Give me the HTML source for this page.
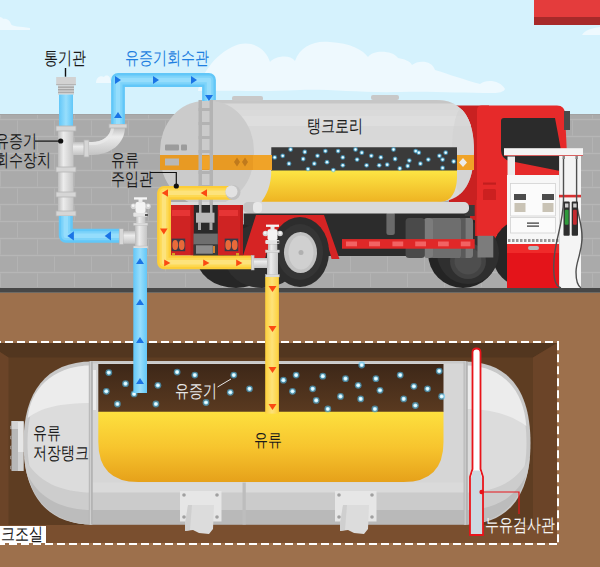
<!DOCTYPE html>
<html><head><meta charset="utf-8">
<style>
html,body{margin:0;padding:0;background:#d5f2fd;}
body{width:600px;height:567px;overflow:hidden;position:relative;font-family:"Liberation Sans",sans-serif;}
svg{position:absolute;left:0;top:0;display:block;}
.t{font-family:"Liberation Sans",sans-serif;font-size:18px;fill:#1a1a1a;}
</style></head><body>
<svg width="600" height="567" viewBox="0 0 600 567">
<defs>
<linearGradient id="yel" x1="0" y1="0" x2="0" y2="1">
<stop offset="0" stop-color="#fde03f"/><stop offset="0.5" stop-color="#f7c52e"/><stop offset="1" stop-color="#e6a11a"/>
</linearGradient>
<linearGradient id="yel2" x1="0" y1="0" x2="0" y2="1">
<stop offset="0" stop-color="#fde544"/><stop offset="1" stop-color="#eeb423"/>
</linearGradient>
<linearGradient id="vap" x1="0" y1="0" x2="0" y2="1">
<stop offset="0" stop-color="#3d2718"/><stop offset="1" stop-color="#5a3a20"/>
</linearGradient>
<linearGradient id="bpH" x1="0" y1="0" x2="0" y2="1">
<stop offset="0" stop-color="#62c7f8"/><stop offset="0.5" stop-color="#98defc"/><stop offset="1" stop-color="#62c7f8"/>
</linearGradient>
<linearGradient id="bpV" x1="0" y1="0" x2="1" y2="0">
<stop offset="0" stop-color="#62c7f8"/><stop offset="0.5" stop-color="#98defc"/><stop offset="1" stop-color="#62c7f8"/>
</linearGradient>
<linearGradient id="ypH" x1="0" y1="0" x2="0" y2="1">
<stop offset="0" stop-color="#fdd03a"/><stop offset="0.5" stop-color="#fde27a"/><stop offset="1" stop-color="#fdd03a"/>
</linearGradient>
<linearGradient id="ypV" x1="0" y1="0" x2="1" y2="0">
<stop offset="0" stop-color="#fdd03a"/><stop offset="0.5" stop-color="#fde27a"/><stop offset="1" stop-color="#fdd03a"/>
</linearGradient>
<linearGradient id="gpV" x1="0" y1="0" x2="1" y2="0">
<stop offset="0" stop-color="#bdbdbd"/><stop offset="0.35" stop-color="#ececec"/><stop offset="1" stop-color="#c4c4c4"/>
</linearGradient>
<linearGradient id="gpH" x1="0" y1="0" x2="0" y2="1">
<stop offset="0" stop-color="#bdbdbd"/><stop offset="0.35" stop-color="#ececec"/><stop offset="1" stop-color="#c4c4c4"/>
</linearGradient>
</defs>

<!-- sky -->
<rect x="0" y="0" width="600" height="300" fill="#d5f2fd"/>
<!-- clouds -->
<path d="M-10 30 L0 30 C2 22 6 18 0 17 C-6 17 -10 22 -10 30Z" fill="#eef9fe"/>
<path d="M-10 30 C-8 20 8 14 11 24 C12 27 20 26 30 28 L30 30 Z" fill="#eef9fe"/>
<path d="M96 83 C96 78 100 75 104 77 C106 74 111 76 110 80 L113 83 Z" fill="#eef9fe"/>
<path d="M198 91 C200 80 210 58 232 47 C250 38 266 48 270 62 C275 56 290 54 295 61 C300 46 315 40 330 42 C350 43 363 50 368 57 C373 50 392 50 398 58 C404 59 410 61 412 65 C418 60 432 60 435 70 C448 74 465 80 480 84 C486 79 500 80 505 89 C504 92 498 93 494 93 C460 93 430 91 400 92 C360 93 330 89 300 90 C260 92 230 90 198 91 Z" fill="#eef9fe"/>
<path d="M582 35 C585 30 592 28 600 27 L600 35 Z" fill="#eef9fe"/>
<!-- red sign -->
<rect x="534" y="0" width="66" height="17" fill="#e43c3c"/>
<rect x="534" y="17" width="66" height="8" fill="#a72a2a"/>

<!-- brick wall -->
<rect x="0" y="114" width="600" height="176" fill="#aaaaaa"/><rect x="0" y="114" width="600" height="1" fill="#a2a2a2"/>
<rect x="0" y="118.8" width="600" height="1.4" fill="#b6b6b6"/><rect x="0" y="135.8" width="600" height="1.4" fill="#b6b6b6"/><rect x="0" y="152.8" width="600" height="1.4" fill="#b6b6b6"/><rect x="0" y="169.8" width="600" height="1.4" fill="#b6b6b6"/><rect x="0" y="186.8" width="600" height="1.4" fill="#b6b6b6"/><rect x="0" y="203.8" width="600" height="1.4" fill="#b6b6b6"/><rect x="0" y="220.8" width="600" height="1.4" fill="#b6b6b6"/><rect x="0" y="237.8" width="600" height="1.4" fill="#b6b6b6"/><rect x="0" y="254.8" width="600" height="1.4" fill="#b6b6b6"/><rect x="0" y="271.8" width="600" height="1.4" fill="#b6b6b6"/><rect x="-37" y="115" width="1" height="3.5" fill="#b3b3b3"/><rect x="0" y="115" width="1" height="3.5" fill="#b3b3b3"/><rect x="37" y="115" width="1" height="3.5" fill="#b3b3b3"/><rect x="74" y="115" width="1" height="3.5" fill="#b3b3b3"/><rect x="111" y="115" width="1" height="3.5" fill="#b3b3b3"/><rect x="148" y="115" width="1" height="3.5" fill="#b3b3b3"/><rect x="185" y="115" width="1" height="3.5" fill="#b3b3b3"/><rect x="222" y="115" width="1" height="3.5" fill="#b3b3b3"/><rect x="259" y="115" width="1" height="3.5" fill="#b3b3b3"/><rect x="296" y="115" width="1" height="3.5" fill="#b3b3b3"/><rect x="333" y="115" width="1" height="3.5" fill="#b3b3b3"/><rect x="370" y="115" width="1" height="3.5" fill="#b3b3b3"/><rect x="407" y="115" width="1" height="3.5" fill="#b3b3b3"/><rect x="444" y="115" width="1" height="3.5" fill="#b3b3b3"/><rect x="481" y="115" width="1" height="3.5" fill="#b3b3b3"/><rect x="518" y="115" width="1" height="3.5" fill="#b3b3b3"/><rect x="555" y="115" width="1" height="3.5" fill="#b3b3b3"/><rect x="592" y="115" width="1" height="3.5" fill="#b3b3b3"/><rect x="-20" y="120.5" width="1" height="15.0" fill="#b3b3b3"/><rect x="17" y="120.5" width="1" height="15.0" fill="#b3b3b3"/><rect x="54" y="120.5" width="1" height="15.0" fill="#b3b3b3"/><rect x="91" y="120.5" width="1" height="15.0" fill="#b3b3b3"/><rect x="128" y="120.5" width="1" height="15.0" fill="#b3b3b3"/><rect x="165" y="120.5" width="1" height="15.0" fill="#b3b3b3"/><rect x="202" y="120.5" width="1" height="15.0" fill="#b3b3b3"/><rect x="239" y="120.5" width="1" height="15.0" fill="#b3b3b3"/><rect x="276" y="120.5" width="1" height="15.0" fill="#b3b3b3"/><rect x="313" y="120.5" width="1" height="15.0" fill="#b3b3b3"/><rect x="350" y="120.5" width="1" height="15.0" fill="#b3b3b3"/><rect x="387" y="120.5" width="1" height="15.0" fill="#b3b3b3"/><rect x="424" y="120.5" width="1" height="15.0" fill="#b3b3b3"/><rect x="461" y="120.5" width="1" height="15.0" fill="#b3b3b3"/><rect x="498" y="120.5" width="1" height="15.0" fill="#b3b3b3"/><rect x="535" y="120.5" width="1" height="15.0" fill="#b3b3b3"/><rect x="572" y="120.5" width="1" height="15.0" fill="#b3b3b3"/><rect x="609" y="120.5" width="1" height="15.0" fill="#b3b3b3"/><rect x="-37" y="137.5" width="1" height="15.0" fill="#b3b3b3"/><rect x="0" y="137.5" width="1" height="15.0" fill="#b3b3b3"/><rect x="37" y="137.5" width="1" height="15.0" fill="#b3b3b3"/><rect x="74" y="137.5" width="1" height="15.0" fill="#b3b3b3"/><rect x="111" y="137.5" width="1" height="15.0" fill="#b3b3b3"/><rect x="148" y="137.5" width="1" height="15.0" fill="#b3b3b3"/><rect x="185" y="137.5" width="1" height="15.0" fill="#b3b3b3"/><rect x="222" y="137.5" width="1" height="15.0" fill="#b3b3b3"/><rect x="259" y="137.5" width="1" height="15.0" fill="#b3b3b3"/><rect x="296" y="137.5" width="1" height="15.0" fill="#b3b3b3"/><rect x="333" y="137.5" width="1" height="15.0" fill="#b3b3b3"/><rect x="370" y="137.5" width="1" height="15.0" fill="#b3b3b3"/><rect x="407" y="137.5" width="1" height="15.0" fill="#b3b3b3"/><rect x="444" y="137.5" width="1" height="15.0" fill="#b3b3b3"/><rect x="481" y="137.5" width="1" height="15.0" fill="#b3b3b3"/><rect x="518" y="137.5" width="1" height="15.0" fill="#b3b3b3"/><rect x="555" y="137.5" width="1" height="15.0" fill="#b3b3b3"/><rect x="592" y="137.5" width="1" height="15.0" fill="#b3b3b3"/><rect x="-20" y="154.5" width="1" height="15.0" fill="#b3b3b3"/><rect x="17" y="154.5" width="1" height="15.0" fill="#b3b3b3"/><rect x="54" y="154.5" width="1" height="15.0" fill="#b3b3b3"/><rect x="91" y="154.5" width="1" height="15.0" fill="#b3b3b3"/><rect x="128" y="154.5" width="1" height="15.0" fill="#b3b3b3"/><rect x="165" y="154.5" width="1" height="15.0" fill="#b3b3b3"/><rect x="202" y="154.5" width="1" height="15.0" fill="#b3b3b3"/><rect x="239" y="154.5" width="1" height="15.0" fill="#b3b3b3"/><rect x="276" y="154.5" width="1" height="15.0" fill="#b3b3b3"/><rect x="313" y="154.5" width="1" height="15.0" fill="#b3b3b3"/><rect x="350" y="154.5" width="1" height="15.0" fill="#b3b3b3"/><rect x="387" y="154.5" width="1" height="15.0" fill="#b3b3b3"/><rect x="424" y="154.5" width="1" height="15.0" fill="#b3b3b3"/><rect x="461" y="154.5" width="1" height="15.0" fill="#b3b3b3"/><rect x="498" y="154.5" width="1" height="15.0" fill="#b3b3b3"/><rect x="535" y="154.5" width="1" height="15.0" fill="#b3b3b3"/><rect x="572" y="154.5" width="1" height="15.0" fill="#b3b3b3"/><rect x="609" y="154.5" width="1" height="15.0" fill="#b3b3b3"/><rect x="-37" y="171.5" width="1" height="15.0" fill="#b3b3b3"/><rect x="0" y="171.5" width="1" height="15.0" fill="#b3b3b3"/><rect x="37" y="171.5" width="1" height="15.0" fill="#b3b3b3"/><rect x="74" y="171.5" width="1" height="15.0" fill="#b3b3b3"/><rect x="111" y="171.5" width="1" height="15.0" fill="#b3b3b3"/><rect x="148" y="171.5" width="1" height="15.0" fill="#b3b3b3"/><rect x="185" y="171.5" width="1" height="15.0" fill="#b3b3b3"/><rect x="222" y="171.5" width="1" height="15.0" fill="#b3b3b3"/><rect x="259" y="171.5" width="1" height="15.0" fill="#b3b3b3"/><rect x="296" y="171.5" width="1" height="15.0" fill="#b3b3b3"/><rect x="333" y="171.5" width="1" height="15.0" fill="#b3b3b3"/><rect x="370" y="171.5" width="1" height="15.0" fill="#b3b3b3"/><rect x="407" y="171.5" width="1" height="15.0" fill="#b3b3b3"/><rect x="444" y="171.5" width="1" height="15.0" fill="#b3b3b3"/><rect x="481" y="171.5" width="1" height="15.0" fill="#b3b3b3"/><rect x="518" y="171.5" width="1" height="15.0" fill="#b3b3b3"/><rect x="555" y="171.5" width="1" height="15.0" fill="#b3b3b3"/><rect x="592" y="171.5" width="1" height="15.0" fill="#b3b3b3"/><rect x="-20" y="188.5" width="1" height="15.0" fill="#b3b3b3"/><rect x="17" y="188.5" width="1" height="15.0" fill="#b3b3b3"/><rect x="54" y="188.5" width="1" height="15.0" fill="#b3b3b3"/><rect x="91" y="188.5" width="1" height="15.0" fill="#b3b3b3"/><rect x="128" y="188.5" width="1" height="15.0" fill="#b3b3b3"/><rect x="165" y="188.5" width="1" height="15.0" fill="#b3b3b3"/><rect x="202" y="188.5" width="1" height="15.0" fill="#b3b3b3"/><rect x="239" y="188.5" width="1" height="15.0" fill="#b3b3b3"/><rect x="276" y="188.5" width="1" height="15.0" fill="#b3b3b3"/><rect x="313" y="188.5" width="1" height="15.0" fill="#b3b3b3"/><rect x="350" y="188.5" width="1" height="15.0" fill="#b3b3b3"/><rect x="387" y="188.5" width="1" height="15.0" fill="#b3b3b3"/><rect x="424" y="188.5" width="1" height="15.0" fill="#b3b3b3"/><rect x="461" y="188.5" width="1" height="15.0" fill="#b3b3b3"/><rect x="498" y="188.5" width="1" height="15.0" fill="#b3b3b3"/><rect x="535" y="188.5" width="1" height="15.0" fill="#b3b3b3"/><rect x="572" y="188.5" width="1" height="15.0" fill="#b3b3b3"/><rect x="609" y="188.5" width="1" height="15.0" fill="#b3b3b3"/><rect x="-37" y="205.5" width="1" height="15.0" fill="#b3b3b3"/><rect x="0" y="205.5" width="1" height="15.0" fill="#b3b3b3"/><rect x="37" y="205.5" width="1" height="15.0" fill="#b3b3b3"/><rect x="74" y="205.5" width="1" height="15.0" fill="#b3b3b3"/><rect x="111" y="205.5" width="1" height="15.0" fill="#b3b3b3"/><rect x="148" y="205.5" width="1" height="15.0" fill="#b3b3b3"/><rect x="185" y="205.5" width="1" height="15.0" fill="#b3b3b3"/><rect x="222" y="205.5" width="1" height="15.0" fill="#b3b3b3"/><rect x="259" y="205.5" width="1" height="15.0" fill="#b3b3b3"/><rect x="296" y="205.5" width="1" height="15.0" fill="#b3b3b3"/><rect x="333" y="205.5" width="1" height="15.0" fill="#b3b3b3"/><rect x="370" y="205.5" width="1" height="15.0" fill="#b3b3b3"/><rect x="407" y="205.5" width="1" height="15.0" fill="#b3b3b3"/><rect x="444" y="205.5" width="1" height="15.0" fill="#b3b3b3"/><rect x="481" y="205.5" width="1" height="15.0" fill="#b3b3b3"/><rect x="518" y="205.5" width="1" height="15.0" fill="#b3b3b3"/><rect x="555" y="205.5" width="1" height="15.0" fill="#b3b3b3"/><rect x="592" y="205.5" width="1" height="15.0" fill="#b3b3b3"/><rect x="-20" y="222.5" width="1" height="15.0" fill="#b3b3b3"/><rect x="17" y="222.5" width="1" height="15.0" fill="#b3b3b3"/><rect x="54" y="222.5" width="1" height="15.0" fill="#b3b3b3"/><rect x="91" y="222.5" width="1" height="15.0" fill="#b3b3b3"/><rect x="128" y="222.5" width="1" height="15.0" fill="#b3b3b3"/><rect x="165" y="222.5" width="1" height="15.0" fill="#b3b3b3"/><rect x="202" y="222.5" width="1" height="15.0" fill="#b3b3b3"/><rect x="239" y="222.5" width="1" height="15.0" fill="#b3b3b3"/><rect x="276" y="222.5" width="1" height="15.0" fill="#b3b3b3"/><rect x="313" y="222.5" width="1" height="15.0" fill="#b3b3b3"/><rect x="350" y="222.5" width="1" height="15.0" fill="#b3b3b3"/><rect x="387" y="222.5" width="1" height="15.0" fill="#b3b3b3"/><rect x="424" y="222.5" width="1" height="15.0" fill="#b3b3b3"/><rect x="461" y="222.5" width="1" height="15.0" fill="#b3b3b3"/><rect x="498" y="222.5" width="1" height="15.0" fill="#b3b3b3"/><rect x="535" y="222.5" width="1" height="15.0" fill="#b3b3b3"/><rect x="572" y="222.5" width="1" height="15.0" fill="#b3b3b3"/><rect x="609" y="222.5" width="1" height="15.0" fill="#b3b3b3"/><rect x="-37" y="239.5" width="1" height="15.0" fill="#b3b3b3"/><rect x="0" y="239.5" width="1" height="15.0" fill="#b3b3b3"/><rect x="37" y="239.5" width="1" height="15.0" fill="#b3b3b3"/><rect x="74" y="239.5" width="1" height="15.0" fill="#b3b3b3"/><rect x="111" y="239.5" width="1" height="15.0" fill="#b3b3b3"/><rect x="148" y="239.5" width="1" height="15.0" fill="#b3b3b3"/><rect x="185" y="239.5" width="1" height="15.0" fill="#b3b3b3"/><rect x="222" y="239.5" width="1" height="15.0" fill="#b3b3b3"/><rect x="259" y="239.5" width="1" height="15.0" fill="#b3b3b3"/><rect x="296" y="239.5" width="1" height="15.0" fill="#b3b3b3"/><rect x="333" y="239.5" width="1" height="15.0" fill="#b3b3b3"/><rect x="370" y="239.5" width="1" height="15.0" fill="#b3b3b3"/><rect x="407" y="239.5" width="1" height="15.0" fill="#b3b3b3"/><rect x="444" y="239.5" width="1" height="15.0" fill="#b3b3b3"/><rect x="481" y="239.5" width="1" height="15.0" fill="#b3b3b3"/><rect x="518" y="239.5" width="1" height="15.0" fill="#b3b3b3"/><rect x="555" y="239.5" width="1" height="15.0" fill="#b3b3b3"/><rect x="592" y="239.5" width="1" height="15.0" fill="#b3b3b3"/><rect x="-20" y="256.5" width="1" height="15.0" fill="#b3b3b3"/><rect x="17" y="256.5" width="1" height="15.0" fill="#b3b3b3"/><rect x="54" y="256.5" width="1" height="15.0" fill="#b3b3b3"/><rect x="91" y="256.5" width="1" height="15.0" fill="#b3b3b3"/><rect x="128" y="256.5" width="1" height="15.0" fill="#b3b3b3"/><rect x="165" y="256.5" width="1" height="15.0" fill="#b3b3b3"/><rect x="202" y="256.5" width="1" height="15.0" fill="#b3b3b3"/><rect x="239" y="256.5" width="1" height="15.0" fill="#b3b3b3"/><rect x="276" y="256.5" width="1" height="15.0" fill="#b3b3b3"/><rect x="313" y="256.5" width="1" height="15.0" fill="#b3b3b3"/><rect x="350" y="256.5" width="1" height="15.0" fill="#b3b3b3"/><rect x="387" y="256.5" width="1" height="15.0" fill="#b3b3b3"/><rect x="424" y="256.5" width="1" height="15.0" fill="#b3b3b3"/><rect x="461" y="256.5" width="1" height="15.0" fill="#b3b3b3"/><rect x="498" y="256.5" width="1" height="15.0" fill="#b3b3b3"/><rect x="535" y="256.5" width="1" height="15.0" fill="#b3b3b3"/><rect x="572" y="256.5" width="1" height="15.0" fill="#b3b3b3"/><rect x="609" y="256.5" width="1" height="15.0" fill="#b3b3b3"/><rect x="-37" y="273.5" width="1" height="13.5" fill="#b3b3b3"/><rect x="0" y="273.5" width="1" height="13.5" fill="#b3b3b3"/><rect x="37" y="273.5" width="1" height="13.5" fill="#b3b3b3"/><rect x="74" y="273.5" width="1" height="13.5" fill="#b3b3b3"/><rect x="111" y="273.5" width="1" height="13.5" fill="#b3b3b3"/><rect x="148" y="273.5" width="1" height="13.5" fill="#b3b3b3"/><rect x="185" y="273.5" width="1" height="13.5" fill="#b3b3b3"/><rect x="222" y="273.5" width="1" height="13.5" fill="#b3b3b3"/><rect x="259" y="273.5" width="1" height="13.5" fill="#b3b3b3"/><rect x="296" y="273.5" width="1" height="13.5" fill="#b3b3b3"/><rect x="333" y="273.5" width="1" height="13.5" fill="#b3b3b3"/><rect x="370" y="273.5" width="1" height="13.5" fill="#b3b3b3"/><rect x="407" y="273.5" width="1" height="13.5" fill="#b3b3b3"/><rect x="444" y="273.5" width="1" height="13.5" fill="#b3b3b3"/><rect x="481" y="273.5" width="1" height="13.5" fill="#b3b3b3"/><rect x="518" y="273.5" width="1" height="13.5" fill="#b3b3b3"/><rect x="555" y="273.5" width="1" height="13.5" fill="#b3b3b3"/><rect x="592" y="273.5" width="1" height="13.5" fill="#b3b3b3"/>

<!-- ground -->
<rect x="0" y="288" width="600" height="4.8" fill="#474747"/>
<rect x="0" y="292.8" width="600" height="275" fill="#9d704c"/>

<!-- ===== Vent + vapor recovery device ===== -->
<!-- vent cap -->
<rect x="64.8" y="68" width="1.4" height="8.7" fill="#111"/>
<rect x="56.2" y="77" width="19.7" height="8" fill="#d2d2d2"/>
<rect x="56.2" y="84" width="19.7" height="1.2" fill="#b4b4b4"/>
<rect x="58" y="85.2" width="16" height="9.4" fill="#d0d0d0"/>
<rect x="58" y="86.6" width="16" height="1.1" fill="#9c9c9c"/>
<rect x="58" y="89.2" width="16" height="1.1" fill="#9c9c9c"/>
<rect x="58" y="91.8" width="16" height="1.1" fill="#a8a8a8"/>
<rect x="59" y="94.6" width="14" height="32.4" fill="url(#bpV)"/>
<!-- grey vertical device pipe -->
<rect x="58" y="127" width="15.5" height="89" fill="url(#gpV)"/>
<rect x="56" y="126" width="20" height="5" fill="#d6d6d6" stroke="#b5b5b5" stroke-width="0.8"/>
<rect x="56" y="167" width="20" height="5" fill="#d6d6d6" stroke="#b5b5b5" stroke-width="0.8"/>
<rect x="56" y="192" width="20" height="5" fill="#d6d6d6" stroke="#b5b5b5" stroke-width="0.8"/>
<rect x="56" y="211" width="20" height="5" fill="#d6d6d6" stroke="#b5b5b5" stroke-width="0.8"/>
<!-- horizontal branch + elbow -->
<rect x="73" y="142" width="12" height="13" fill="url(#gpH)"/>
<rect x="84" y="140" width="5" height="17" fill="#d6d6d6" stroke="#b5b5b5" stroke-width="0.8"/>
<path d="M89 142 L92 142 C102 142 111 136 111 127 L125 127 C125 144 110 155 92 155 L89 155 Z" fill="url(#gpH)"/>
<path d="M111 127 C111 136 102 142 92 142 L89 142 L89 145 L93 145 C104 145 114 138 114 127Z" fill="#e9e9e9" opacity="0.7"/>
<rect x="109" y="124" width="18" height="4" fill="#d6d6d6" stroke="#b5b5b5" stroke-width="0.8"/>
<!-- blue pipe vapor recovery -->
<g fill="none" stroke-linejoin="round">
<path d="M118 124 L118 80 L209 80 L209 101" stroke="#62c7f8" stroke-width="13.8"/>
<path d="M118 124 L118 80 L209 80 L209 101" stroke="#7dd3fa" stroke-width="9"/>
<path d="M118 124 L118 80 L209 80 L209 101" stroke="#95ddfc" stroke-width="4.5"/>
</g>
<!-- arrows on vapor pipe -->
<path d="M115 76 L121 80 L115 84Z" fill="#1a74e6"/>
<path d="M153 76 L159 80 L153 84Z" fill="#1a74e6"/>
<path d="M191 76 L197 80 L191 84Z" fill="#1a74e6"/>
<path d="M205 95 L213 95 L209 101Z" fill="#1a74e6"/>
<path d="M114 118 L122 118 L118 112Z" fill="#1a74e6"/>
<!-- blue lower pipe -->
<g fill="none" stroke-linejoin="round">
<path d="M65.8 216 L65.8 235.8 L120 235.8" stroke="#62c7f8" stroke-width="14"/>
<path d="M65.8 216 L65.8 235.8 L120 235.8" stroke="#7dd3fa" stroke-width="9"/>
<path d="M65.8 216 L65.8 235.8 L120 235.8" stroke="#95ddfc" stroke-width="4.5"/>
</g>
<path d="M73.9 231.3 L73.9 240.5 L67.4 235.9Z" fill="#1a74e6"/>
<path d="M111 231.3 L111 240.5 L104.7 235.9Z" fill="#1a74e6"/>


<!-- ===== TANKER TRUCK ===== -->
<!-- cab back -->
<rect x="449" y="105.5" width="40" height="150" fill="#c92121"/>
<path d="M482 105.5 L557 105.5 Q565 105.5 565 114 L568 175 L568 258 L477 258 L477 110 Q477 105.5 482 105.5 Z" fill="#e62a2a"/>
<path d="M504 118 L556 118 L566 166 L560 171 L510 161 Q501 159 501 150 L501 121 Q501 118 504 118 Z" fill="#2b2b2b"/>
<path d="M555 118 L558 118 L566 160 L563 161Z" fill="#e62a2a"/>
<rect x="564" y="111" width="6" height="19" fill="#4a4a4a"/>
<rect x="483" y="182.5" width="13" height="2.2" fill="#c21e1e"/>
<rect x="483" y="189" width="13" height="17.5" rx="1.5" fill="#cc2020"/>
<!-- chassis dark -->
<rect x="244" y="213" width="226" height="43" fill="#2c2c2c"/>
<!-- rear dual tires -->
<ellipse cx="236" cy="256" rx="40" ry="32" fill="#262626"/>
<ellipse cx="262" cy="256" rx="38" ry="32" fill="#2e2e2e"/>
<!-- fender -->
<path d="M256 215 L324 215 L339.5 259 L331.5 259 C327 235 314 222 300 222 C284 222 271 234 265 259 L242 259 Z" fill="#d62424"/>
<!-- middle wheel -->
<ellipse cx="300" cy="252" rx="29" ry="35" fill="#2d2d2d"/>
<ellipse cx="300" cy="252" rx="23" ry="28" fill="#353535"/>
<ellipse cx="300.5" cy="252.5" rx="16.5" ry="20.5" fill="#c2c2c2"/>
<ellipse cx="301" cy="252.5" rx="12.5" ry="17" fill="#d0d0d0"/>
<circle cx="301" cy="252.5" r="2.5" fill="#b0b0b0"/>
<!-- front wheel under cab -->
<circle cx="527" cy="253" r="35" fill="#262626"/>
<circle cx="463" cy="253" r="35" fill="#242424"/>
<circle cx="468" cy="253" r="31" fill="#2f2f2f"/>
<circle cx="468" cy="261" r="18" fill="#434343"/>
<circle cx="468" cy="261" r="13.5" fill="#4e4e4e"/>
<!-- fuel tank box -->
<rect x="386.4" y="212" width="8.4" height="23" rx="2.5" fill="#6a6a6a"/>
<rect x="455" y="218" width="18" height="40" rx="3" fill="#7a7a7a"/>
<rect x="459.6" y="218" width="6" height="40" fill="#5a5a5a"/>
<rect x="430" y="218" width="31" height="40" rx="3" fill="#6e6e6e"/>
<rect x="424" y="218" width="9" height="40" rx="3" fill="#7c7c7c"/>
<rect x="405.6" y="218" width="19.2" height="40" rx="3.5" fill="#4a4a4a"/>
<!-- cab lower red over tires -->
<path d="M475 200 L508 200 L508 222 C501 225 497 230 497 236 L475 236 Z" fill="#e62a2a"/><rect x="475" y="200" width="1.5" height="36" fill="#c92121"/>
<rect x="477.5" y="235.8" width="15.8" height="21.7" fill="#7c7c7c"/>
<!-- red side bar -->
<rect x="342" y="239.1" width="132.7" height="9.6" fill="#e02828"/>
<rect x="346" y="241.5" width="11" height="4.8" fill="#f26363"/>
<rect x="369" y="241.5" width="11" height="4.8" fill="#f26363"/>
<rect x="392.4" y="241.5" width="10.8" height="4.8" fill="#f26363"/>
<rect x="415.2" y="241.5" width="10.8" height="4.8" fill="#f26363"/>
<rect x="438" y="241.5" width="10.8" height="4.8" fill="#f26363"/>
<rect x="460.8" y="241.5" width="9.6" height="4.8" fill="#f26363"/>
<!-- tank -->
<clipPath id="tankclip"><path d="M210 100 L436 100 Q474 100 474 151 Q474 202 436 202 L210 202 Z"/></clipPath>
<path d="M210 100 L436 100 Q474 100 474 151 Q474 202 436 202 L210 202 Z" fill="#d8d8d8"/>
<g clip-path="url(#tankclip)">
<rect x="200" y="100" width="280" height="3.5" fill="#c6c6c6"/>
<rect x="200" y="110" width="280" height="6" fill="#dadada"/>
<rect x="200" y="116" width="280" height="10" fill="#dedede"/>
<path d="M474 100 Q452 100 452 151 Q452 202 474 202 Z" fill="#d2d2d2" opacity="0.6"/>
</g>
<rect x="232" y="96" width="31" height="5" rx="2" fill="#c8c8c8"/>
<rect x="371" y="95" width="28" height="5" rx="2" fill="#c8c8c8"/>

<!-- window in tank -->
<path d="M271.3 147.2 L457 147.2 L457 171 L271.3 171 Z" fill="#3a3a3a"/>
<path d="M271.3 170.6 L457 170.6 L457 178 C456.5 192 451 201.7 441 201.7 L261.5 201.7 C266 196 271.3 186 271.3 170.6 Z" fill="url(#yel2)"/>
<rect x="457" y="155" width="17" height="15" fill="#f0a328"/>
<path d="M463 158 L467 162.5 L463 167 L459 162.5Z" fill="#ececec"/>
<!-- tank end cap -->
<rect x="160" y="101" width="94" height="104" rx="44" ry="50" fill="#cbcbcb"/>
<rect x="160" y="155" width="112" height="15" fill="#e89a23"/>
<path d="M253 155 L272 155 L272 170 L253 170 Z" fill="#f0a328"/>
<rect x="165" y="158.5" width="14" height="7" fill="#b8b8b8"/>
<rect x="165" y="144.5" width="14" height="6" rx="1" fill="#9c9c9c"/>
<rect x="181" y="144.5" width="6" height="6" rx="1" fill="#9c9c9c"/>
<path d="M237 157.5 L240 162 L237 166.5 L234 162Z M245 157.5 L248 162 L245 166.5 L242 162Z" fill="#c07a1c"/>
<!-- tank bottom bar -->
<rect x="464.7" y="205" width="10" height="11" fill="#3a3a3a"/>
<rect x="160" y="202" width="309" height="11.5" rx="5" fill="#d9d9d9"/>
<rect x="243" y="202" width="18" height="11" rx="5" fill="#c4c4c4"/>
<rect x="253" y="202" width="9" height="11" rx="4" fill="#e8e8e8"/>
<!-- ladder -->
<rect x="198.5" y="100" width="3.5" height="130" fill="#b3b3b3"/>
<rect x="209.5" y="100" width="3.5" height="130" fill="#b3b3b3"/>
<rect x="198.5" y="108" width="14.5" height="3" fill="#b3b3b3"/>
<rect x="198.5" y="122" width="14.5" height="3" fill="#b3b3b3"/>
<rect x="198.5" y="136" width="14.5" height="3" fill="#b3b3b3"/>
<rect x="198.5" y="150" width="14.5" height="3" fill="#b3b3b3"/>
<rect x="202" y="156" width="7.5" height="13" fill="#f0a328"/>
<rect x="198.5" y="171" width="14.5" height="3" fill="#b3b3b3"/>
<rect x="198.5" y="185" width="14.5" height="3" fill="#b3b3b3"/>
<!-- truck rear -->
<rect x="193" y="205" width="25" height="52" fill="#2a2a2a"/>
<rect x="170.9" y="205" width="22.6" height="50.4" fill="#cf2323"/>
<rect x="190.5" y="205" width="3" height="50.4" fill="#b81c1c"/>
<rect x="172" y="210" width="18" height="6" fill="#e63535"/>
<rect x="217.8" y="205" width="25.2" height="50.4" fill="#cf2323"/>
<rect x="240" y="205" width="3" height="50.4" fill="#b81c1c"/>
<rect x="219" y="210" width="19" height="6" fill="#e63535"/>
<rect x="199" y="205" width="2.5" height="10" fill="#b0b0b0"/>
<rect x="210" y="205" width="2.5" height="10" fill="#b0b0b0"/>
<rect x="196" y="212.7" width="18.5" height="10" fill="#b8b8b8"/>
<rect x="198" y="222" width="3" height="8" fill="#a8a8a8"/>
<rect x="209.5" y="222" width="3" height="8" fill="#a8a8a8"/>
<rect x="193.5" y="233.6" width="24.3" height="11" fill="#6e6e6e"/>
<rect x="193.5" y="244.5" width="24.3" height="11" fill="#3a3a3a"/>
<rect x="196" y="245.3" width="16.8" height="8.4" fill="#8c8c8c"/>
<rect x="213" y="246" width="2" height="7" fill="#d08030"/>
<rect x="171.7" y="238.6" width="13.5" height="12.6" fill="#3a3a48"/>
<ellipse cx="175.2" cy="244.9" rx="2.9" ry="5" fill="#e86a3a"/>
<ellipse cx="181.7" cy="244.9" rx="2.9" ry="5" fill="#e86a3a"/>
<rect x="224.7" y="238.6" width="13.5" height="12.6" fill="#3a3a48"/>
<ellipse cx="228.2" cy="244.9" rx="2.9" ry="5" fill="#e86a3a"/>
<ellipse cx="234.7" cy="244.9" rx="2.9" ry="5" fill="#e86a3a"/>
<rect x="172" y="253" width="3" height="2.5" fill="#d8a020"/>
<rect x="236" y="253" width="3" height="2.5" fill="#d8a020"/>
<circle cx="274.7" cy="157.4" r="2.4" fill="#4cc6ff" opacity="0.55"/><circle cx="274.7" cy="157.4" r="1.4" fill="#bff0ff"/><circle cx="274.7" cy="157.4" r="0.70" fill="#fff"/><circle cx="282.7" cy="155.8" r="2.4" fill="#4cc6ff" opacity="0.55"/><circle cx="282.7" cy="155.8" r="1.4" fill="#bff0ff"/><circle cx="282.7" cy="155.8" r="0.70" fill="#fff"/><circle cx="290.6" cy="149.5" r="2.4" fill="#4cc6ff" opacity="0.55"/><circle cx="290.6" cy="149.5" r="1.4" fill="#bff0ff"/><circle cx="290.6" cy="149.5" r="0.70" fill="#fff"/><circle cx="289.0" cy="163.7" r="2.4" fill="#4cc6ff" opacity="0.55"/><circle cx="289.0" cy="163.7" r="1.4" fill="#bff0ff"/><circle cx="289.0" cy="163.7" r="0.70" fill="#fff"/><circle cx="304.8" cy="152.0" r="2.4" fill="#4cc6ff" opacity="0.55"/><circle cx="304.8" cy="152.0" r="1.4" fill="#bff0ff"/><circle cx="304.8" cy="152.0" r="0.70" fill="#fff"/><circle cx="303.2" cy="159.0" r="2.4" fill="#4cc6ff" opacity="0.55"/><circle cx="303.2" cy="159.0" r="1.4" fill="#bff0ff"/><circle cx="303.2" cy="159.0" r="0.70" fill="#fff"/><circle cx="314.3" cy="163.7" r="2.4" fill="#4cc6ff" opacity="0.55"/><circle cx="314.3" cy="163.7" r="1.4" fill="#bff0ff"/><circle cx="314.3" cy="163.7" r="0.70" fill="#fff"/><circle cx="317.5" cy="155.8" r="2.4" fill="#4cc6ff" opacity="0.55"/><circle cx="317.5" cy="155.8" r="1.4" fill="#bff0ff"/><circle cx="317.5" cy="155.8" r="0.70" fill="#fff"/><circle cx="325.4" cy="151.1" r="2.4" fill="#4cc6ff" opacity="0.55"/><circle cx="325.4" cy="151.1" r="1.4" fill="#bff0ff"/><circle cx="325.4" cy="151.1" r="0.70" fill="#fff"/><circle cx="327.0" cy="162.2" r="2.4" fill="#4cc6ff" opacity="0.55"/><circle cx="327.0" cy="162.2" r="1.4" fill="#bff0ff"/><circle cx="327.0" cy="162.2" r="0.70" fill="#fff"/><circle cx="338.1" cy="151.1" r="2.4" fill="#4cc6ff" opacity="0.55"/><circle cx="338.1" cy="151.1" r="1.4" fill="#bff0ff"/><circle cx="338.1" cy="151.1" r="0.70" fill="#fff"/><circle cx="342.8" cy="157.4" r="2.4" fill="#4cc6ff" opacity="0.55"/><circle cx="342.8" cy="157.4" r="1.4" fill="#bff0ff"/><circle cx="342.8" cy="157.4" r="0.70" fill="#fff"/><circle cx="342.8" cy="165.3" r="2.4" fill="#4cc6ff" opacity="0.55"/><circle cx="342.8" cy="165.3" r="1.4" fill="#bff0ff"/><circle cx="342.8" cy="165.3" r="0.70" fill="#fff"/><circle cx="355.5" cy="149.5" r="2.4" fill="#4cc6ff" opacity="0.55"/><circle cx="355.5" cy="149.5" r="1.4" fill="#bff0ff"/><circle cx="355.5" cy="149.5" r="0.70" fill="#fff"/><circle cx="357.1" cy="159.6" r="2.4" fill="#4cc6ff" opacity="0.55"/><circle cx="357.1" cy="159.6" r="1.4" fill="#bff0ff"/><circle cx="357.1" cy="159.6" r="0.70" fill="#fff"/><circle cx="361.8" cy="152.7" r="2.4" fill="#4cc6ff" opacity="0.55"/><circle cx="361.8" cy="152.7" r="1.4" fill="#bff0ff"/><circle cx="361.8" cy="152.7" r="0.70" fill="#fff"/><circle cx="366.6" cy="165.3" r="2.4" fill="#4cc6ff" opacity="0.55"/><circle cx="366.6" cy="165.3" r="1.4" fill="#bff0ff"/><circle cx="366.6" cy="165.3" r="0.70" fill="#fff"/><circle cx="371.3" cy="155.8" r="2.4" fill="#4cc6ff" opacity="0.55"/><circle cx="371.3" cy="155.8" r="1.4" fill="#bff0ff"/><circle cx="371.3" cy="155.8" r="0.70" fill="#fff"/><circle cx="380.8" cy="157.4" r="2.4" fill="#4cc6ff" opacity="0.55"/><circle cx="380.8" cy="157.4" r="1.4" fill="#bff0ff"/><circle cx="380.8" cy="157.4" r="0.70" fill="#fff"/><circle cx="379.2" cy="165.3" r="2.4" fill="#4cc6ff" opacity="0.55"/><circle cx="379.2" cy="165.3" r="1.4" fill="#bff0ff"/><circle cx="379.2" cy="165.3" r="0.70" fill="#fff"/><circle cx="387.2" cy="164.7" r="2.4" fill="#4cc6ff" opacity="0.55"/><circle cx="387.2" cy="164.7" r="1.4" fill="#bff0ff"/><circle cx="387.2" cy="164.7" r="0.70" fill="#fff"/><circle cx="393.5" cy="149.5" r="2.4" fill="#4cc6ff" opacity="0.55"/><circle cx="393.5" cy="149.5" r="1.4" fill="#bff0ff"/><circle cx="393.5" cy="149.5" r="0.70" fill="#fff"/><circle cx="395.1" cy="159.0" r="2.4" fill="#4cc6ff" opacity="0.55"/><circle cx="395.1" cy="159.0" r="1.4" fill="#bff0ff"/><circle cx="395.1" cy="159.0" r="0.70" fill="#fff"/><circle cx="407.7" cy="166.0" r="2.4" fill="#4cc6ff" opacity="0.55"/><circle cx="407.7" cy="166.0" r="1.4" fill="#bff0ff"/><circle cx="407.7" cy="166.0" r="0.70" fill="#fff"/><circle cx="409.3" cy="160.6" r="2.4" fill="#4cc6ff" opacity="0.55"/><circle cx="409.3" cy="160.6" r="1.4" fill="#bff0ff"/><circle cx="409.3" cy="160.6" r="0.70" fill="#fff"/><circle cx="415.7" cy="151.1" r="2.4" fill="#4cc6ff" opacity="0.55"/><circle cx="415.7" cy="151.1" r="1.4" fill="#bff0ff"/><circle cx="415.7" cy="151.1" r="0.70" fill="#fff"/><circle cx="418.8" cy="152.7" r="2.4" fill="#4cc6ff" opacity="0.55"/><circle cx="418.8" cy="152.7" r="1.4" fill="#bff0ff"/><circle cx="418.8" cy="152.7" r="0.70" fill="#fff"/><circle cx="420.4" cy="163.7" r="2.4" fill="#4cc6ff" opacity="0.55"/><circle cx="420.4" cy="163.7" r="1.4" fill="#bff0ff"/><circle cx="420.4" cy="163.7" r="0.70" fill="#fff"/><circle cx="428.3" cy="159.6" r="2.4" fill="#4cc6ff" opacity="0.55"/><circle cx="428.3" cy="159.6" r="1.4" fill="#bff0ff"/><circle cx="428.3" cy="159.6" r="0.70" fill="#fff"/><circle cx="439.4" cy="155.8" r="2.4" fill="#4cc6ff" opacity="0.55"/><circle cx="439.4" cy="155.8" r="1.4" fill="#bff0ff"/><circle cx="439.4" cy="155.8" r="0.70" fill="#fff"/><circle cx="442.6" cy="159.6" r="2.4" fill="#4cc6ff" opacity="0.55"/><circle cx="442.6" cy="159.6" r="1.4" fill="#bff0ff"/><circle cx="442.6" cy="159.6" r="0.70" fill="#fff"/><circle cx="445.7" cy="152.7" r="2.4" fill="#4cc6ff" opacity="0.55"/><circle cx="445.7" cy="152.7" r="1.4" fill="#bff0ff"/><circle cx="445.7" cy="152.7" r="0.70" fill="#fff"/><circle cx="442.6" cy="167.9" r="2.4" fill="#4cc6ff" opacity="0.55"/><circle cx="442.6" cy="167.9" r="1.4" fill="#bff0ff"/><circle cx="442.6" cy="167.9" r="0.70" fill="#fff"/><circle cx="453.7" cy="161.5" r="2.4" fill="#4cc6ff" opacity="0.55"/><circle cx="453.7" cy="161.5" r="1.4" fill="#bff0ff"/><circle cx="453.7" cy="161.5" r="0.70" fill="#fff"/><circle cx="399.8" cy="168.5" r="2.4" fill="#4cc6ff" opacity="0.55"/><circle cx="399.8" cy="168.5" r="1.4" fill="#bff0ff"/><circle cx="399.8" cy="168.5" r="0.70" fill="#fff"/><circle cx="333.3" cy="170.1" r="2.4" fill="#4cc6ff" opacity="0.55"/><circle cx="333.3" cy="170.1" r="1.4" fill="#bff0ff"/><circle cx="333.3" cy="170.1" r="0.70" fill="#fff"/><circle cx="308.0" cy="169.1" r="2.4" fill="#4cc6ff" opacity="0.55"/><circle cx="308.0" cy="169.1" r="1.4" fill="#bff0ff"/><circle cx="308.0" cy="169.1" r="0.70" fill="#fff"/>

<!-- ===== GAS PUMP ===== -->
<rect x="504" y="148.2" width="79" height="7" fill="#f4f4f4"/>
<rect x="504" y="155" width="79" height="1" fill="#d86060"/>
<rect x="507.5" y="156.5" width="7.5" height="20" fill="#ececec"/>
<rect x="507" y="175" width="53" height="70" fill="#f7f7f7"/>
<rect x="510.5" y="183.5" width="45" height="32.5" fill="#fbfbfb" stroke="#d2d2d2" stroke-width="0.8"/>
<rect x="514" y="194" width="12" height="6" fill="#4c4c4c"/>
<rect x="542" y="194" width="12" height="6" fill="#4c4c4c"/>
<rect x="514.5" y="203" width="11" height="9" fill="#c9c3b5"/>
<rect x="542.5" y="203" width="11" height="9" fill="#c9c3b5"/>
<rect x="510.5" y="217.5" width="45" height="15.5" fill="#fbfbfb" stroke="#d2d2d2" stroke-width="0.8"/>
<rect x="527" y="222.5" width="12" height="1.2" fill="#333"/>
<rect x="527" y="225.5" width="12" height="1.2" fill="#333"/>
<path d="M508 240.5 L559 240.5" stroke="#9a9a9a" stroke-width="2.8" stroke-dasharray="2.5 1.5"/>
<rect x="507" y="244" width="53" height="44" fill="#e4141a"/>
<rect x="507" y="244" width="53" height="9" fill="#f02a2a"/>
<rect x="528" y="246" width="11" height="4" rx="2" fill="#b8b8b8"/>
<rect x="559" y="156" width="22" height="132" fill="#f4f4f4"/>
<rect x="559" y="156" width="1" height="132" fill="#dcdcdc"/>
<rect x="559" y="194.8" width="22" height="2.6" fill="#d63030"/>
<path d="M563.5 158 L563.5 200 C563 225 555 240 554 260 C553 278 555 286 561 288" fill="none" stroke="#505050" stroke-width="1.4"/>
<path d="M576.6 158 L576.6 200 C577 215 583 225 582 240 C581 255 576 262 576 272 C576 282 578 286 581 288" fill="none" stroke="#505050" stroke-width="1.4"/>
<rect x="563.5" y="201.5" width="6.2" height="34.2" rx="1" fill="#2e2e2e"/>
<rect x="571.7" y="201.5" width="6.3" height="34.2" rx="1" fill="#2e2e2e"/>
<rect x="565" y="203.5" width="3.4" height="4" fill="#cfcfcf"/>
<rect x="573.2" y="203.5" width="3.4" height="4" fill="#cfcfcf"/>
<rect x="564.8" y="209.7" width="3.8" height="15.1" rx="1" fill="#2f9a3c"/>
<rect x="573" y="209.7" width="3.8" height="15.1" rx="1" fill="#c42a30"/>
<rect x="562.5" y="156" width="2.5" height="3" fill="#888"/>
<rect x="575.4" y="156" width="2.5" height="3" fill="#888"/>

<!-- ===== Yellow fuel injection pipe ===== -->
<g fill="none" stroke-linejoin="round">
<path d="M232 192.8 L164 192.8 L164 262.3 L252 262.3" stroke="#fccd38" stroke-width="13.8"/>
<path d="M232 192.8 L164 192.8 L164 262.3 L252 262.3" stroke="#fdd954" stroke-width="9"/>
<path d="M232 192.8 L164 192.8 L164 262.3 L252 262.3" stroke="#fde37c" stroke-width="4.5"/>
</g>
<circle cx="233" cy="192.5" r="7.5" fill="#c2c2c2"/>
<circle cx="231.5" cy="191.5" r="6" fill="#e2e2e2"/>
<path d="M168 189.2 L161.7 193 L168 196.8Z" fill="#fb4a12"/>
<path d="M207 189.2 L200.6 193 L207 196.8Z" fill="#fb4a12"/>
<path d="M160 228.6 L167.6 228.6 L163.8 234.4Z" fill="#fb4a12"/>
<path d="M164.2 259.6 L170.4 263 L164.2 266.3Z" fill="#fb4a12"/>
<path d="M203.2 259.6 L209.5 263 L203.2 266.3Z" fill="#fb4a12"/>
<path d="M236.2 259.6 L242.4 263 L236.2 266.3Z" fill="#fb4a12"/>
<!-- right T -->
<rect x="251.3" y="255.3" width="2.8" height="14.7" fill="#d8d8d8" stroke="#b0b0b0" stroke-width="0.5"/>
<rect x="254" y="258" width="13" height="10" fill="url(#gpH)"/>
<rect x="267" y="252" width="11" height="24" fill="url(#gpV)"/>
<rect x="265.4" y="250" width="14" height="2.6" fill="#dcdcdc" stroke="#b5b5b5" stroke-width="0.4"/>
<rect x="265.4" y="274.5" width="14" height="2.6" fill="#dcdcdc" stroke="#b5b5b5" stroke-width="0.4"/>
<!-- left T -->
<rect x="119.2" y="228.8" width="4.2" height="15.6" fill="#d8d8d8" stroke="#b0b0b0" stroke-width="0.5"/>
<rect x="123.4" y="231" width="12" height="12.7" fill="url(#gpH)"/>
<rect x="135.1" y="225" width="11.9" height="23" fill="url(#gpV)"/>
<rect x="133.3" y="223" width="14.6" height="2.4" fill="#dcdcdc" stroke="#b5b5b5" stroke-width="0.4"/>
<rect x="133.3" y="246" width="14.6" height="2.4" fill="#dcdcdc" stroke="#b5b5b5" stroke-width="0.4"/>
<!-- valves -->
<g>
<rect x="136" y="216.8" width="9.3" height="6.4" fill="url(#gpV)"/>
<rect x="133.3" y="212.6" width="14.1" height="4.2" rx="1" fill="#e4e4e4"/>
<circle cx="133.5" cy="206.2" r="2.8" fill="#d4d4d4"/>
<circle cx="148" cy="206.2" r="2.8" fill="#d4d4d4"/>
<circle cx="133.2" cy="205.7" r="1.4" fill="#f4f4f4"/>
<circle cx="148.3" cy="205.7" r="1.4" fill="#f4f4f4"/>
<rect x="135.5" y="202" width="10" height="11" rx="2" fill="#f4f4f4"/>
<rect x="138.5" y="199" width="4" height="4" fill="#ececec"/>
<rect x="134" y="197.3" width="13" height="2.3" fill="#f6f6f6"/>
<rect x="145" y="214" width="3" height="2" fill="#555"/>
</g>
<g transform="translate(132,27.3)">
<rect x="136" y="216.8" width="9.3" height="6.4" fill="url(#gpV)"/>
<rect x="133.3" y="212.6" width="14.1" height="4.2" rx="1" fill="#e4e4e4"/>
<circle cx="133.5" cy="206.2" r="2.8" fill="#d4d4d4"/>
<circle cx="148" cy="206.2" r="2.8" fill="#d4d4d4"/>
<circle cx="133.2" cy="205.7" r="1.4" fill="#f4f4f4"/>
<circle cx="148.3" cy="205.7" r="1.4" fill="#f4f4f4"/>
<rect x="135.5" y="202" width="10" height="11" rx="2" fill="#f4f4f4"/>
<rect x="138.5" y="199" width="4" height="4" fill="#ececec"/>
<rect x="134" y="197.3" width="13" height="2.3" fill="#f6f6f6"/>
<rect x="145" y="214" width="3" height="2" fill="#555"/>
</g>

<!-- ===== UNDERGROUND VAULT ===== -->
<rect x="0" y="343" width="557" height="200" fill="#5e3d22"/>
<path d="M0 343 L557 343 L533 357.5 L8.5 357.5 L0 352Z" fill="#52361f"/>
<path d="M533 357.5 L557 343 L557 544 L533 525 Z" fill="#6b4428"/>
<path d="M0 352 L8.5 357.5 L8.5 525 L0 525 Z" fill="#6b4428"/>
<rect x="0" y="525" width="557" height="18" fill="#7a4f2f"/>

<!-- dashed border -->
<path d="M-7 342 L559 342" fill="none" stroke="#ffffff" stroke-width="2" stroke-dasharray="8 4"/>
<path d="M558 342.3 L558 545" fill="none" stroke="#ffffff" stroke-width="2" stroke-dasharray="8 4"/>
<path d="M-3 544 L559 544" fill="none" stroke="#ffffff" stroke-width="2" stroke-dasharray="8 4"/>

<!-- ===== UNDERGROUND TANK ===== -->
<!-- body -->
<rect x="90" y="361.5" width="376" height="163" fill="#d6d6d6"/>
<rect x="90" y="482.5" width="376" height="10" fill="#dadada"/>
<rect x="90" y="492.5" width="376" height="17.5" fill="#cbcbcb"/>
<rect x="90" y="510" width="376" height="14.5" fill="#b9b9b9"/>
<rect x="90" y="361" width="376" height="2.5" fill="#c9c9c9"/>
<!-- left dome -->
<path d="M92 361.5 C46 361.5 23.5 392 23.5 443 C23.5 494 46 524.5 92 524.5 Z" fill="#c8c8c8"/>
<path d="M92 365.5 C50 365.5 27.5 394 27.5 443 C27.5 492 50 520.5 92 520.5 Z" fill="#dcdcdc"/>
<path d="M92 365.5 C50 365.5 30 392 27.8 418 C40 408 60 403 92 403 Z" fill="#ececec"/>
<path d="M92 492.5 C62 492.5 36 482 24.3 457 C26 495 52 524.5 92 524.5 Z" fill="#cdcdcd"/>
<path d="M92 510 C65 510 40 500 28.3 476 C34 502 56 524.5 92 524.5 Z" fill="#bcbcbc"/>
<rect x="11.5" y="421" width="12" height="50" fill="#b8b8b8"/>
<rect x="11.5" y="421" width="6.5" height="8" fill="#d4d4d4"/>
<rect x="18" y="421" width="5.5" height="50" fill="#d2d2d2"/>
<rect x="18" y="422" width="5.5" height="30" fill="#e6e6e6"/>
<path d="M11.5 426 h-0.8 v3 h0.8 M11.5 436 h-0.8 v3 h0.8 M11.5 446 h-0.8 v3 h0.8 M11.5 456 h-0.8 v3 h0.8 M11.5 466 h-0.8 v3 h0.8" fill="none" stroke="#b0b0b0" stroke-width="0.8"/>
<!-- right dome -->
<path d="M464 361.5 C510 361.5 530.5 392 530.5 443 C530.5 494 510 524.5 464 524.5 Z" fill="#c8c8c8"/>
<path d="M464 365.5 C506 365.5 526.5 394 526.5 443 C526.5 492 506 520.5 464 520.5 Z" fill="#dcdcdc"/>
<path d="M464 365.5 C506 365.5 524 394 526.3 426 C510 414 490 409 464 409 Z" fill="#ececec"/>
<path d="M464 492.5 C494 492.5 518 482 529.7 457 C528 495 502 524.5 464 524.5 Z" fill="#cdcdcd"/>
<path d="M464 510 C491 510 514 500 525.7 476 C520 502 498 524.5 464 524.5 Z" fill="#bcbcbc"/>
<!-- rings -->
<rect x="88.8" y="361.5" width="4" height="163" fill="#b4b4b4"/><rect x="89.8" y="361.5" width="1.2" height="163" fill="#cfcfcf"/>
<rect x="463.6" y="361.5" width="4.2" height="163" fill="#b4b4b4"/><rect x="464.6" y="361.5" width="1.2" height="163" fill="#cfcfcf"/>
<rect x="242.5" y="482.5" width="3.3" height="42" fill="#bdbdbd"/>
<!-- window -->
<rect x="98.3" y="364" width="345.2" height="48" fill="url(#vap)"/>
<path d="M98.3 411.7 L443.5 411.7 L443.5 442 Q443.5 482 403.5 482 L138.3 482 Q98.3 482 98.3 442 Z" fill="url(#yel)"/>
<rect x="93" y="370" width="3" height="40" fill="#ededed"/>
<circle cx="108.8" cy="372.6" r="3.4" fill="#4cc6ff" opacity="0.55"/><circle cx="108.8" cy="372.6" r="2.1" fill="#bff0ff"/><circle cx="108.8" cy="372.6" r="1.05" fill="#fff"/><circle cx="125.5" cy="383.7" r="3.4" fill="#4cc6ff" opacity="0.55"/><circle cx="125.5" cy="383.7" r="2.1" fill="#bff0ff"/><circle cx="125.5" cy="383.7" r="1.05" fill="#fff"/><circle cx="106.3" cy="391.3" r="3.4" fill="#4cc6ff" opacity="0.55"/><circle cx="106.3" cy="391.3" r="2.1" fill="#bff0ff"/><circle cx="106.3" cy="391.3" r="1.05" fill="#fff"/><circle cx="117.4" cy="404.0" r="3.4" fill="#4cc6ff" opacity="0.55"/><circle cx="117.4" cy="404.0" r="2.1" fill="#bff0ff"/><circle cx="117.4" cy="404.0" r="1.05" fill="#fff"/><circle cx="134.1" cy="393.9" r="3.4" fill="#4cc6ff" opacity="0.55"/><circle cx="134.1" cy="393.9" r="2.1" fill="#bff0ff"/><circle cx="134.1" cy="393.9" r="1.05" fill="#fff"/><circle cx="157.9" cy="385.3" r="3.4" fill="#4cc6ff" opacity="0.55"/><circle cx="157.9" cy="385.3" r="2.1" fill="#bff0ff"/><circle cx="157.9" cy="385.3" r="1.05" fill="#fff"/><circle cx="155.9" cy="404.0" r="3.4" fill="#4cc6ff" opacity="0.55"/><circle cx="155.9" cy="404.0" r="2.1" fill="#bff0ff"/><circle cx="155.9" cy="404.0" r="1.05" fill="#fff"/><circle cx="177.1" cy="372.1" r="3.4" fill="#4cc6ff" opacity="0.55"/><circle cx="177.1" cy="372.1" r="2.1" fill="#bff0ff"/><circle cx="177.1" cy="372.1" r="1.05" fill="#fff"/><circle cx="194.8" cy="375.1" r="3.4" fill="#4cc6ff" opacity="0.55"/><circle cx="194.8" cy="375.1" r="2.1" fill="#bff0ff"/><circle cx="194.8" cy="375.1" r="1.05" fill="#fff"/><circle cx="233.8" cy="375.1" r="3.4" fill="#4cc6ff" opacity="0.55"/><circle cx="233.8" cy="375.1" r="2.1" fill="#bff0ff"/><circle cx="233.8" cy="375.1" r="1.05" fill="#fff"/><circle cx="230.3" cy="392.3" r="3.4" fill="#4cc6ff" opacity="0.55"/><circle cx="230.3" cy="392.3" r="2.1" fill="#bff0ff"/><circle cx="230.3" cy="392.3" r="1.05" fill="#fff"/><circle cx="206.0" cy="402.5" r="3.4" fill="#4cc6ff" opacity="0.55"/><circle cx="206.0" cy="402.5" r="2.1" fill="#bff0ff"/><circle cx="206.0" cy="402.5" r="1.05" fill="#fff"/><circle cx="249.5" cy="388.8" r="3.4" fill="#4cc6ff" opacity="0.55"/><circle cx="249.5" cy="388.8" r="2.1" fill="#bff0ff"/><circle cx="249.5" cy="388.8" r="1.05" fill="#fff"/><circle cx="283.4" cy="380.2" r="3.4" fill="#4cc6ff" opacity="0.55"/><circle cx="283.4" cy="380.2" r="2.1" fill="#bff0ff"/><circle cx="283.4" cy="380.2" r="1.05" fill="#fff"/><circle cx="296.1" cy="375.1" r="3.4" fill="#4cc6ff" opacity="0.55"/><circle cx="296.1" cy="375.1" r="2.1" fill="#bff0ff"/><circle cx="296.1" cy="375.1" r="1.05" fill="#fff"/><circle cx="292.5" cy="391.3" r="3.4" fill="#4cc6ff" opacity="0.55"/><circle cx="292.5" cy="391.3" r="2.1" fill="#bff0ff"/><circle cx="292.5" cy="391.3" r="1.05" fill="#fff"/><circle cx="322.8" cy="376.2" r="3.4" fill="#4cc6ff" opacity="0.55"/><circle cx="322.8" cy="376.2" r="2.1" fill="#bff0ff"/><circle cx="322.8" cy="376.2" r="1.05" fill="#fff"/><circle cx="312.7" cy="388.8" r="3.4" fill="#4cc6ff" opacity="0.55"/><circle cx="312.7" cy="388.8" r="2.1" fill="#bff0ff"/><circle cx="312.7" cy="388.8" r="1.05" fill="#fff"/><circle cx="316.2" cy="400.4" r="3.4" fill="#4cc6ff" opacity="0.55"/><circle cx="316.2" cy="400.4" r="2.1" fill="#bff0ff"/><circle cx="316.2" cy="400.4" r="1.05" fill="#fff"/><circle cx="327.8" cy="409.0" r="3.4" fill="#4cc6ff" opacity="0.55"/><circle cx="327.8" cy="409.0" r="2.1" fill="#bff0ff"/><circle cx="327.8" cy="409.0" r="1.05" fill="#fff"/><circle cx="345.5" cy="378.7" r="3.4" fill="#4cc6ff" opacity="0.55"/><circle cx="345.5" cy="378.7" r="2.1" fill="#bff0ff"/><circle cx="345.5" cy="378.7" r="1.05" fill="#fff"/><circle cx="340.5" cy="396.4" r="3.4" fill="#4cc6ff" opacity="0.55"/><circle cx="340.5" cy="396.4" r="2.1" fill="#bff0ff"/><circle cx="340.5" cy="396.4" r="1.05" fill="#fff"/><circle cx="358.2" cy="385.3" r="3.4" fill="#4cc6ff" opacity="0.55"/><circle cx="358.2" cy="385.3" r="2.1" fill="#bff0ff"/><circle cx="358.2" cy="385.3" r="1.05" fill="#fff"/><circle cx="360.7" cy="398.9" r="3.4" fill="#4cc6ff" opacity="0.55"/><circle cx="360.7" cy="398.9" r="2.1" fill="#bff0ff"/><circle cx="360.7" cy="398.9" r="1.05" fill="#fff"/><circle cx="375.9" cy="378.7" r="3.4" fill="#4cc6ff" opacity="0.55"/><circle cx="375.9" cy="378.7" r="2.1" fill="#bff0ff"/><circle cx="375.9" cy="378.7" r="1.05" fill="#fff"/><circle cx="380.0" cy="390.3" r="3.4" fill="#4cc6ff" opacity="0.55"/><circle cx="380.0" cy="390.3" r="2.1" fill="#bff0ff"/><circle cx="380.0" cy="390.3" r="1.05" fill="#fff"/><circle cx="374.9" cy="409.0" r="3.4" fill="#4cc6ff" opacity="0.55"/><circle cx="374.9" cy="409.0" r="2.1" fill="#bff0ff"/><circle cx="374.9" cy="409.0" r="1.05" fill="#fff"/><circle cx="400.2" cy="375.1" r="3.4" fill="#4cc6ff" opacity="0.55"/><circle cx="400.2" cy="375.1" r="2.1" fill="#bff0ff"/><circle cx="400.2" cy="375.1" r="1.05" fill="#fff"/><circle cx="413.9" cy="386.3" r="3.4" fill="#4cc6ff" opacity="0.55"/><circle cx="413.9" cy="386.3" r="2.1" fill="#bff0ff"/><circle cx="413.9" cy="386.3" r="1.05" fill="#fff"/><circle cx="427.5" cy="388.8" r="3.4" fill="#4cc6ff" opacity="0.55"/><circle cx="427.5" cy="388.8" r="2.1" fill="#bff0ff"/><circle cx="427.5" cy="388.8" r="1.05" fill="#fff"/><circle cx="403.7" cy="398.9" r="3.4" fill="#4cc6ff" opacity="0.55"/><circle cx="403.7" cy="398.9" r="2.1" fill="#bff0ff"/><circle cx="403.7" cy="398.9" r="1.05" fill="#fff"/><circle cx="415.4" cy="405.5" r="3.4" fill="#4cc6ff" opacity="0.55"/><circle cx="415.4" cy="405.5" r="2.1" fill="#bff0ff"/><circle cx="415.4" cy="405.5" r="1.05" fill="#fff"/><circle cx="439.2" cy="371.1" r="3.4" fill="#4cc6ff" opacity="0.55"/><circle cx="439.2" cy="371.1" r="2.1" fill="#bff0ff"/><circle cx="439.2" cy="371.1" r="1.05" fill="#fff"/><circle cx="441.7" cy="396.4" r="3.4" fill="#4cc6ff" opacity="0.55"/><circle cx="441.7" cy="396.4" r="2.1" fill="#bff0ff"/><circle cx="441.7" cy="396.4" r="1.05" fill="#fff"/><circle cx="361.7" cy="365.0" r="3.4" fill="#4cc6ff" opacity="0.55"/><circle cx="361.7" cy="365.0" r="2.1" fill="#bff0ff"/><circle cx="361.7" cy="365.0" r="1.05" fill="#fff"/>
<!-- saddles -->
<g>

<rect x="180" y="491" width="41.5" height="30.5" fill="#e6e6e6"/>
<circle cx="184" cy="495" r="1.8" fill="#a0a0a0"/><circle cx="217" cy="495" r="1.8" fill="#a0a0a0"/>
<circle cx="184" cy="517" r="1.8" fill="#a0a0a0"/><circle cx="217" cy="517" r="1.8" fill="#a0a0a0"/><path d="M188 505 L214 505 L213 529 L209 534 L199 533 L193 530 L185 531 L185 524 Z" fill="#dcdcdc"/><path d="M188 505 L192 505 L190 530 L185 531 L185 524 Z" fill="#cfcfcf"/>
</g>
<g transform="translate(155,0)">

<rect x="180" y="491" width="41.5" height="30.5" fill="#e6e6e6"/>
<circle cx="184" cy="495" r="1.8" fill="#a0a0a0"/><circle cx="217" cy="495" r="1.8" fill="#a0a0a0"/>
<circle cx="184" cy="517" r="1.8" fill="#a0a0a0"/><circle cx="217" cy="517" r="1.8" fill="#a0a0a0"/><path d="M188 505 L214 505 L213 529 L209 534 L199 533 L193 530 L185 531 L185 524 Z" fill="#dcdcdc"/><path d="M188 505 L192 505 L190 530 L185 531 L185 524 Z" fill="#cfcfcf"/>
</g>

<!-- pipes into tank -->
<rect x="133.3" y="248" width="13.7" height="145" fill="url(#bpV)"/>
<path d="M136 305 L144 305 L140 299Z" fill="#1a74e6"/>
<path d="M136 343 L144 343 L140 337Z" fill="#1a74e6"/>
<path d="M136 384 L144 384 L140 378Z" fill="#1a74e6"/>
<path d="M136 264 L144 264 L140 258Z" fill="#1a74e6"/>
<rect x="265.2" y="277" width="13.7" height="136.6" fill="url(#ypV)"/>
<path d="M268.5 286 L276.5 286 L272.5 292Z" fill="#fb4a12"/>
<path d="M268.5 326 L276.5 326 L272.5 332Z" fill="#fb4a12"/>
<path d="M268.5 367 L276.5 367 L272.5 373Z" fill="#fb4a12"/>
<path d="M268.5 404 L276.5 404 L272.5 410Z" fill="#fb4a12"/>

<!-- leak detection pipe -->
<path d="M472.5 469 L472.5 352.5 Q472.5 348.5 476.5 348.5 Q480.5 348.5 480.5 352.5 L480.5 469 L483 477 L483 535 L470 535 L470 477 Z" fill="#ffffff" stroke="#e8141a" stroke-width="1.8"/>
<path d="M471 478 L473 470.5 L480 470.5 L482 478 L482 534 L471 534 Z" fill="#cdd9e0"/>
<circle cx="481.6" cy="492" r="2.2" fill="#e8141a"/>
<path d="M481.6 492 L519 492 L519 514" fill="none" stroke="#e8141a" stroke-width="1.2"/>

<!-- ===== LABELS ===== -->
<text class="t" x="44" y="64" textLength="42" lengthAdjust="spacingAndGlyphs">통기관</text>
<text class="t" x="125" y="64" style="fill:#1f7fe0" textLength="84" lengthAdjust="spacingAndGlyphs">유증기회수관</text>
<text class="t" x="307" y="132" textLength="56" lengthAdjust="spacingAndGlyphs">탱크로리</text>
<text class="t" x="-5" y="147" textLength="42" lengthAdjust="spacingAndGlyphs">유증기</text>
<text class="t" x="-5" y="166" textLength="56" lengthAdjust="spacingAndGlyphs">회수장치</text>
<rect x="35" y="140.5" width="25" height="1.2" fill="#111"/>
<circle cx="60.7" cy="141" r="2.6" fill="#111"/>
<text class="t" x="111" y="166" textLength="28" lengthAdjust="spacingAndGlyphs">유류</text>
<text class="t" x="111" y="185" textLength="42" lengthAdjust="spacingAndGlyphs">주입관</text>
<path d="M150 172.5 L176.3 172.5 L176.3 186" fill="none" stroke="#111" stroke-width="1.2"/>
<circle cx="176.3" cy="186" r="2.6" fill="#111"/>
<text class="t" x="33" y="439" textLength="28" lengthAdjust="spacingAndGlyphs">유류</text>
<text class="t" x="33" y="459" textLength="56" lengthAdjust="spacingAndGlyphs">저장탱크</text>
<text class="t" x="175" y="397" style="fill:#e6e6e6" textLength="42" lengthAdjust="spacingAndGlyphs">유증기</text>
<path d="M217.5 387 L231 379" stroke="#e6e6e6" stroke-width="1"/>
<text class="t" x="254" y="446" textLength="28" lengthAdjust="spacingAndGlyphs">유류</text>
<rect x="0" y="526" width="46" height="17" fill="#ffffff"/>
<text class="t" x="1" y="540" textLength="42" lengthAdjust="spacingAndGlyphs">크조실</text>
<text class="t" x="485" y="531" style="fill:#f4f4f4" textLength="70" lengthAdjust="spacingAndGlyphs">누유검사관</text>
</svg>
</body></html>
